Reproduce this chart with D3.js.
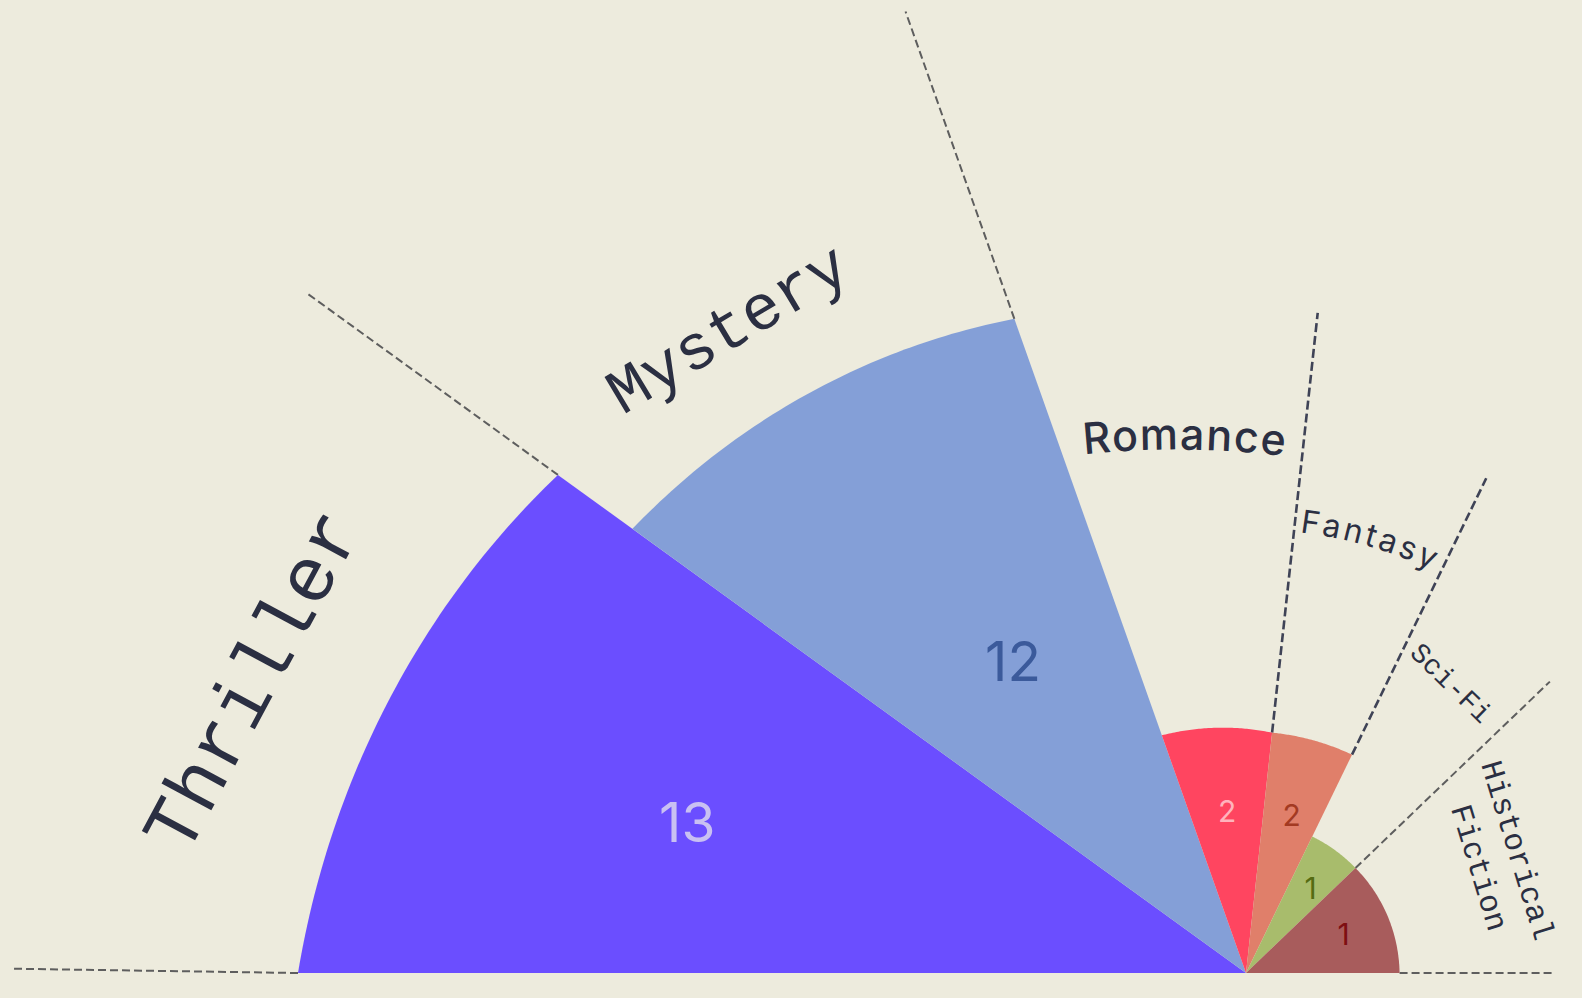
<!DOCTYPE html>
<html>
<head>
<meta charset="utf-8">
<script src="https://cdn.jsdelivr.net/npm/d3@7"></script>
<style>
  html, body { margin: 0; padding: 0; background: #edebdd; }
  svg { display: block; }
</style>
</head>
<body>
<div id="chart"></div>
<script>
// Data
const genres = ["Thriller", "Mystery", "Romance", "Fantasy", "Sci-Fi", "Historical Fiction"];
const counts = [13, 12, 2, 2, 1, 1];
// angular share of the half circle (sums to 180)
const share = [35.9, 34.6, 25.7, 19.7, 20.3, 43.8];
// outer reach at the start / end of each wedge, in % of the longest one
const reachStart = [100, 79.9, 26.6, 25.5, 16.0, 16.0];
const reachEnd = [89.6, 73.2, 25.5, 25.6, 16.0, 16.2];

// Styles
const fills = ["#6b4eff", "#849fd7", "#ff4560", "#e07f6a", "#a8bc6c", "#a85c5c"];
const countColors = ["#c9c0f2", "#3b5a9b", "#ffb3bc", "#a33a22", "#556b12", "#7e0f12"];
const mono = "'Liberation Mono', 'Cousine', 'DejaVu Sans Mono', monospace";
const sans = "Inter, 'Noto Sans', sans-serif";

const width = 1582;
const height = 998;
const cx = 1246;
const cy = 973;
const maxR = 948;

const svg = d3.select("#chart")
    .append("svg")
    .attr("width", width)
    .attr("height", height);

svg.append("rect")
    .attr("width", width)
    .attr("height", height)
    .attr("fill", "#edebdd");

const g = svg.append("g")
    .attr("transform", "translate(" + cx + "," + cy + ")");

// Scales: angle runs from 9 o'clock to 3 o'clock over the top
const theta = d3.scaleLinear()
    .domain([0, d3.sum(share)])
    .range([-Math.PI / 2, Math.PI / 2]);

const r = d3.scaleLinear()
    .domain([0, 100])
    .range([0, maxR]);

let acc = 0;
const rows = genres.map((genre, i) => {
    const a0 = theta(acc);
    acc += share[i];
    const a1 = theta(acc);
    return { genre, count: counts[i], a0, a1, r0: reachStart[i], r1: reachEnd[i], i };
});

// wedge whose outer edge tapers from r0 to r1
const radialLine = d3.lineRadial()
    .angle(p => p[0])
    .radius(p => p[1]);

function wedge(d) {
    const steps = 60;
    const pts = [[0, 0]];
    for (let k = 0; k <= steps; k++) {
        const t = k / steps;
        pts.push([d.a0 + (d.a1 - d.a0) * t, r(d.r0 + (d.r1 - d.r0) * t)]);
    }
    return radialLine(pts) + "Z";
}

const polar = (a, rad) => [rad * Math.sin(a), -rad * Math.cos(a)];
const deg = Math.PI / 180;

// Dashed guides along each wedge boundary
const guideEnds = [1234, 1159, 1020, 664, 550, 421, 308];
const guideTilt = [0.2, 0, 0, 0, 0, 0, 0];
const guides = [];
rows.forEach((d, i) => {
    const prev = i > 0 ? r(rows[i - 1].r1) : 0;
    guides.push({ a: d.a0, from: Math.max(prev, r(d.r0)) });
});
guides.push({ a: rows[rows.length - 1].a1, from: r(rows[rows.length - 1].r1) });

const strong = i => i === 3 || i === 4;

g.selectAll(".guide")
    .data(guides)
    .enter()
    .append("line")
    .attr("class", "guide")
    .attr("x1", d => polar(d.a, d.from)[0])
    .attr("y1", d => polar(d.a, d.from)[1])
    .attr("x2", (d, i) => polar(d.a + guideTilt[i] * deg, guideEnds[i])[0])
    .attr("y2", (d, i) => polar(d.a + guideTilt[i] * deg, guideEnds[i])[1])
    .attr("stroke", (d, i) => strong(i) ? "#3f4356" : "#5e5e5e")
    .attr("stroke-width", (d, i) => strong(i) ? 2.6 : 2)
    .attr("stroke-dasharray", (d, i) => strong(i) ? "9,4" : "8,4");

// Wedges
g.selectAll(".wedge")
    .data(rows)
    .enter()
    .append("path")
    .attr("class", "wedge")
    .attr("d", wedge)
    .attr("fill", d => fills[d.i]);

// Count labels inside the wedges
const countPos = [
    { frac: 0.644, dAngle: -2.85 },
    { frac: 0.536, dAngle: 0 },
    { frac: 0.66, dAngle: 0 },
    { frac: 0.68, dAngle: 0 },
    { frac: 0.70, dAngle: 1.35 },
    { frac: 0.69, dAngle: 0 }
];

g.selectAll(".count")
    .data(rows)
    .enter()
    .append("text")
    .attr("class", "count")
    .attr("transform", d => {
        const p = countPos[d.i];
        const a = (d.a0 + d.a1) / 2 + p.dAngle * deg;
        const xy = polar(a, p.frac * r((d.r0 + d.r1) / 2));
        return "translate(" + xy[0] + "," + xy[1] + ")";
    })
    .attr("dy", "0.36em")
    .attr("text-anchor", "middle")
    .style("font-family", sans)
    .style("font-size", d => d.count >= 10 ? "55px" : "30px")
    .style("fill", d => countColors[d.i])
    .text(d => d.count);

// Genre labels outside the wedges
// straight: centre at (angle, radius), rotated tangent + tilt
// arc: baseline centre at (angle, radius), bent on a circle of radius bend
const labelLayout = [
    { mode: "straight", font: mono, size: 78, dAngle: -1.55, radius: [1038], tilt: 11.8 },
    { mode: "straight", font: mono, size: 64, dAngle: -2.0, radius: [829], tilt: 7.8 },
    { mode: "arc", font: sans, size: 43, weight: 500, spacing: 1.5, dAngle: 0, radius: 527, tilt: 7.2, bend: 900 },
    { mode: "arc", font: sans, size: 32, weight: 400, spacing: 3.2, dAngle: 0, radius: 444, tilt: 0, bend: 444 },
    { mode: "straight", font: mono, size: 28, dAngle: -0.75, radius: [356], tilt: 8.9 },
    { mode: "straight", font: mono, size: 31, dAngle: -2.4, radius: [299, 257], tilt: 7.3, wrap: true }
];

const defs = svg.append("defs");

rows.forEach(d => {
    const L = labelLayout[d.i];
    const a = (d.a0 + d.a1) / 2 + L.dAngle * deg;
    const rot = a / deg + L.tilt;
    if (L.mode === "arc") {
        const xy = polar(a, L.radius);
        const R = L.bend;
        const phi = 0.6;
        const id = "arc-" + d.i;
        defs.append("path")
            .attr("id", id)
            .attr("d", "M" + (-R * Math.sin(phi)) + "," + (R - R * Math.cos(phi)) +
                " A" + R + "," + R + " 0 0 1 " + (R * Math.sin(phi)) + "," + (R - R * Math.cos(phi)));
        g.append("text")
            .attr("transform", "translate(" + xy[0] + "," + xy[1] + ") rotate(" + rot + ")")
            .style("font-family", L.font)
            .style("font-size", L.size + "px")
            .style("font-weight", L.weight)
            .style("letter-spacing", L.spacing + "px")
            .style("fill", "#2b2f42")
            .append("textPath")
            .attr("href", "#" + id)
            .attr("startOffset", "50%")
            .attr("text-anchor", "middle")
            .text(d.genre);
    } else {
        const lines = L.wrap ? d.genre.split(" ") : [d.genre];
        lines.forEach((line, k) => {
            const xy = polar(a, L.radius[k]);
            g.append("text")
                .attr("transform", "translate(" + xy[0] + "," + xy[1] + ") rotate(" + rot + ")")
                .attr("dy", "0.35em")
                .attr("text-anchor", "middle")
                .style("font-family", L.font)
                .style("font-size", L.size + "px")
                .style("fill", "#2b2f42")
                .text(line);
        });
    }
});
</script>
</body>
</html>
